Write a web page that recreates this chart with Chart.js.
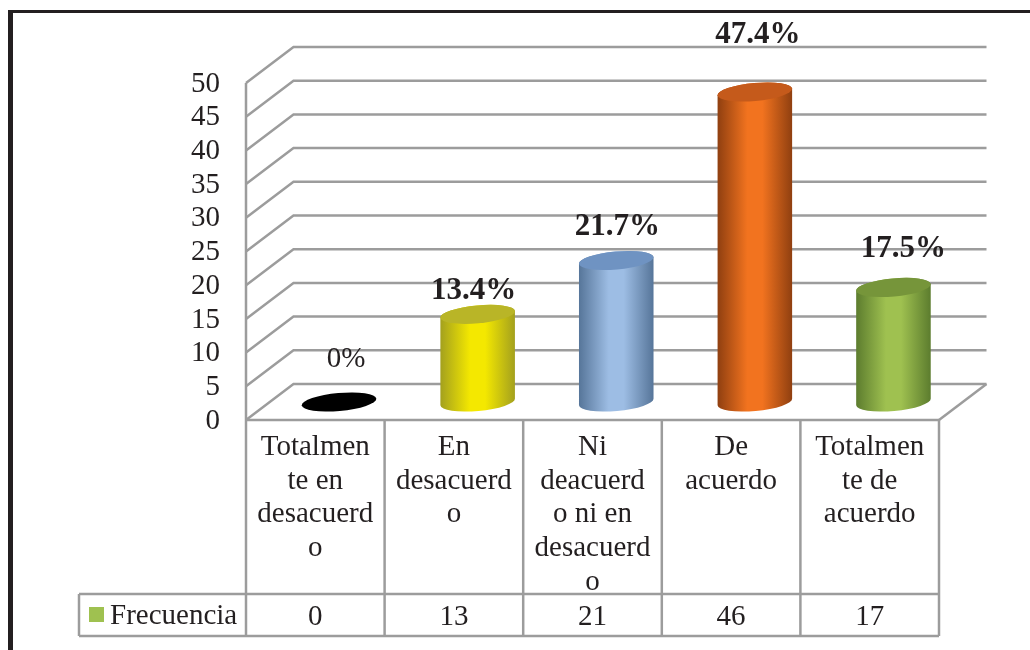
<!DOCTYPE html>
<html>
<head>
<meta charset="utf-8">
<script src="https://cdn.jsdelivr.net/npm/chart.js@4"></script>
<style>
    html, body { margin: 0; padding: 0; background: #fff; }
    #frame { position: absolute; left: 8px; top: 10px; right: 0; bottom: 0; border-top: 3px solid #231f20; border-left: 5px solid #231f20; }
    #chart_canvas { position: absolute; left: 0; top: 0; }
</style>
</head>
<body>
<div id="frame"></div>
<canvas id="chart_canvas" width="1030" height="650"></canvas>
<script>
    const categories = [
        ['Totalmen', 'te en', 'desacuerd', 'o'],
        ['En', 'desacuerd', 'o'],
        ['Ni', 'deacuerd', 'o ni en', 'desacuerd', 'o'],
        ['De', 'acuerdo'],
        ['Totalmen', 'te de', 'acuerdo']
    ];
    const frecuencia = [0, 13, 21, 46, 17];
    const percent_labels = ['0%', '13.4%', '21.7%', '47.4%', '17.5%'];
    const percent_bold = [false, true, true, true, true];
    const y_ticks_max = 50;
    const y_ticks_step = 5;

    const light_colors = ['#000000', '#f4e800', '#9dbde4', '#f2731f', '#9fc150'];
    const dark_colors = ['#000000', '#a3a01e', '#567599', '#8f3f10', '#5c7c2e'];
    const top_colors = ['#000000', '#b9b527', '#6f93c2', '#c55a1b', '#76953a'];

    // hand placed in the original, so kept as nudges from the bar top
    const label_nudge = [[7, -35], [-4, -15], [1, -25], [3, -49], [10, -30]];

    const text_color = '#231f20';
    const line_color = '#9c9c9c';
    const serif = "'Liberation Serif'";
    const depth_x = 47.5;
    const depth_y = -36;
    const table_row_y = 594;
    const table_bottom_y = 636;
    const table_left_x = 79;

    function stroke_path(ctx, points) {
        ctx.beginPath();
        ctx.moveTo(points[0][0], points[0][1]);
        for (let i = 1; i < points.length; i++) {
            ctx.lineTo(points[i][0], points[i][1]);
        }
        ctx.stroke();
    }

    function draw_cylinder(ctx, bar, i) {
        let cx = bar.x + depth_x / 2;
        let top = bar.y + depth_y / 2;
        let base = bar.base + depth_y / 2;
        let rx = bar.width / 2;
        let ry = 9;
        let tilt = -0.09;

        if (top < base) {
            let gradient = ctx.createLinearGradient(cx - rx, 0, cx + rx, 0);
            gradient.addColorStop(0, dark_colors[i]);
            gradient.addColorStop(0.4, light_colors[i]);
            gradient.addColorStop(0.6, light_colors[i]);
            gradient.addColorStop(1, dark_colors[i]);
            ctx.fillStyle = gradient;
            ctx.beginPath();
            ctx.ellipse(cx, top, rx, ry, tilt, Math.PI, 0);
            ctx.ellipse(cx, base, rx, ry, tilt, 0, Math.PI);
            ctx.closePath();
            ctx.fill();
        }
        ctx.fillStyle = top_colors[i];
        ctx.beginPath();
        ctx.ellipse(cx, top, rx, ry, tilt, 0, Math.PI * 2);
        ctx.fill();
    }

    const walls_plugin = {
        id: 'walls_plugin',
        beforeDatasetsDraw: (chart) => {
            const ctx = chart.ctx;
            const y_scale = chart.scales.y;
            const area = chart.chartArea;
            ctx.save();
            ctx.strokeStyle = line_color;
            ctx.lineWidth = 2.5;
            y_scale.ticks.forEach(function (tick, i) {
                let y = y_scale.getPixelForTick(i);
                stroke_path(ctx, [[area.left, y], [area.left + depth_x, y + depth_y], [area.right + depth_x, y + depth_y]]);
            });
            let floor_y = y_scale.getPixelForValue(0);
            stroke_path(ctx, [[area.right + depth_x, floor_y + depth_y], [area.right, floor_y]]);
            stroke_path(ctx, [[area.left, area.top], [area.left, floor_y]]);
            ctx.restore();
        },
        beforeDatasetDraw: (chart) => {
            const ctx = chart.ctx;
            ctx.save();
            chart.getDatasetMeta(0).data.forEach(function (bar, i) {
                draw_cylinder(ctx, bar, i);
            });
            ctx.restore();
            return false;
        },
        afterDatasetsDraw: (chart) => {
            const ctx = chart.ctx;
            ctx.save();
            ctx.fillStyle = text_color;
            ctx.textAlign = 'center';
            ctx.textBaseline = 'alphabetic';
            chart.getDatasetMeta(0).data.forEach(function (bar, i) {
                ctx.font = (percent_bold[i] ? 'bold 31px ' : '29px ') + serif;
                ctx.fillText(percent_labels[i],
                    bar.x + depth_x / 2 + label_nudge[i][0],
                    bar.y + depth_y / 2 + label_nudge[i][1]);
            });
            ctx.restore();
        },
        afterDraw: (chart) => {
            const ctx = chart.ctx;
            const x_scale = chart.scales.x;
            const area = chart.chartArea;
            const step = (area.right - area.left) / categories.length;
            ctx.save();
            ctx.strokeStyle = line_color;
            ctx.lineWidth = 2.5;
            stroke_path(ctx, [[area.left, area.bottom], [area.right, area.bottom]]);
            stroke_path(ctx, [[table_left_x, table_row_y], [area.right, table_row_y]]);
            stroke_path(ctx, [[table_left_x, table_bottom_y], [area.right, table_bottom_y]]);
            stroke_path(ctx, [[table_left_x, table_row_y], [table_left_x, table_bottom_y]]);
            for (let i = 0; i <= categories.length; i++) {
                let x = area.left + i * step;
                stroke_path(ctx, [[x, area.bottom], [x, table_bottom_y]]);
            }
            ctx.fillStyle = text_color;
            ctx.font = '29px ' + serif;
            ctx.textAlign = 'center';
            ctx.textBaseline = 'alphabetic';
            frecuencia.forEach(function (value, i) {
                ctx.fillText(String(value), x_scale.getPixelForTick(i), 625);
            });
            ctx.textAlign = 'left';
            ctx.fillText(chart.data.datasets[0].label, 110, 624);
            ctx.fillStyle = light_colors[4];
            ctx.fillRect(89, 607, 15, 15);
            ctx.restore();
        }
    };

    new Chart(document.getElementById('chart_canvas').getContext('2d'), {
        type: 'bar',
        data: {
            labels: categories,
            datasets: [{
                label: 'Frecuencia',
                data: frecuencia,
                backgroundColor: light_colors,
                barPercentage: 0.54,
                categoryPercentage: 1
            }]
        },
        options: {
            animation: false,
            responsive: false,
            layout: { padding: { left: 0, right: 91, top: 83, bottom: 0 } },
            plugins: {
                legend: { display: false },
                title: { display: false },
                tooltip: { enabled: false }
            },
            scales: {
                x: {
                    afterFit: function (scale) { scale.height = 230; },
                    grid: { display: false, drawTicks: false },
                    border: { display: false },
                    ticks: {
                        color: text_color,
                        font: { family: serif, size: 29, lineHeight: 1.17 },
                        padding: 10,
                        maxRotation: 0,
                        autoSkip: false
                    }
                },
                y: {
                    min: 0,
                    max: y_ticks_max,
                    afterFit: function (scale) { scale.width = 246; },
                    grid: { display: false, drawTicks: false },
                    border: { display: false },
                    ticks: {
                        stepSize: y_ticks_step,
                        autoSkip: false,
                        color: text_color,
                        font: { family: serif, size: 29 },
                        padding: 26,
                        labelOffset: 1
                    }
                }
            }
        },
        plugins: [walls_plugin]
    });
</script>
</body>
</html>
